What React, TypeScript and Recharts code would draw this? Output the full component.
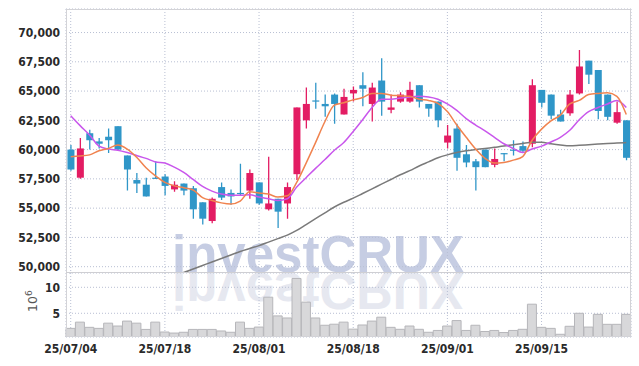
import { ComposedChart, Bar, Line, XAxis, YAxis, CartesianGrid } from 'recharts';

// daily candles, KRX trading days
const dates = [
  '25/07/04', '25/07/07', '25/07/08', '25/07/09', '25/07/10', '25/07/11', '25/07/14', '25/07/15', '25/07/16', '25/07/17',
  '25/07/18', '25/07/21', '25/07/22', '25/07/23', '25/07/24', '25/07/25', '25/07/28', '25/07/29', '25/07/30', '25/07/31',
  '25/08/01', '25/08/04', '25/08/05', '25/08/06', '25/08/07', '25/08/08', '25/08/11', '25/08/12', '25/08/13', '25/08/14',
  '25/08/18', '25/08/19', '25/08/20', '25/08/21', '25/08/22', '25/08/25', '25/08/26', '25/08/27', '25/08/28', '25/08/29',
  '25/09/01', '25/09/02', '25/09/03', '25/09/04', '25/09/05', '25/09/08', '25/09/09', '25/09/10', '25/09/11', '25/09/12',
  '25/09/15', '25/09/16', '25/09/17', '25/09/18', '25/09/19', '25/09/22', '25/09/23', '25/09/24', '25/09/25', '25/09/26',
];

const opens = [
  60000, 57600, 61400, 60700, 61100, 62000, 59500, 57400, 57000, 57600,
  57700, 56600, 57100, 56700, 55500, 53900, 56800, 56300, 56300, 56500,
  57200, 54900, 55800, 55400, 57900, 62500, 64200, 63900, 64700, 63000,
  64800, 65500, 63900, 65900, 63400, 64100, 64100, 65500, 63900, 64100,
  60600, 61800, 59600, 59000, 60000, 58700, 59700, 60000, 60300, 60500,
  65100, 64700, 63000, 63100, 64800, 67600, 66800, 64700, 62300, 62500,
];
const highs = [
  60400, 61000, 61700, 61000, 61800, 62000, 59500, 58000, 57600, 59000,
  57900, 57300, 57100, 56900, 55500, 55900, 57200, 56600, 58800, 58300,
  57200, 59400, 55800, 57200, 63600, 65300, 65700, 64700, 64800, 65200,
  65400, 66600, 65700, 67800, 64700, 64900, 65800, 65500, 63900, 64100,
  62100, 62200, 60400, 59200, 60000, 60100, 59700, 60800, 60700, 66000,
  65100, 64700, 63400, 65100, 68500, 67600, 66800, 64700, 64100, 62500,
];
const lows = [
  58200, 57500, 60000, 60100, 59700, 59900, 56500, 56300, 56000, 57500,
  56100, 56400, 56100, 54100, 53600, 53700, 55700, 55300, 56100, 55800,
  55300, 54800, 53300, 54100, 57400, 61800, 63500, 62800, 62200, 63000,
  64100, 63700, 62400, 62900, 63100, 64000, 64000, 63600, 62800, 61900,
  60100, 58200, 58500, 56500, 58500, 58500, 59000, 59500, 59800, 60200,
  63600, 62600, 62400, 62900, 64700, 65600, 62600, 62500, 62200, 59100,
];
const closes = [
  58300, 60100, 60800, 60500, 60800, 60000, 58300, 57100, 56000, 57500,
  56900, 57000, 56500, 54900, 54100, 55800, 55900, 56000, 56200, 58000,
  55400, 55400, 54700, 56800, 63600, 63900, 64100, 63700, 63900, 64500,
  65100, 65200, 65300, 64100, 63600, 64700, 65100, 64100, 63500, 62500,
  61200, 59300, 58900, 58500, 58500, 59200, 59600, 59900, 59900, 65500,
  64000, 62900, 62400, 64700, 67100, 66400, 63300, 62800, 63200, 59300,
];

// moving averages as drawn (orange, purple, grey)
const ma5 = [
  59400, 59450, 59550, 59900, 60100, 60400, 60050, 59350, 58450, 57750,
  57200, 56900, 56750, 56550, 55900, 55650, 55450, 55350, 55600, 56400,
  56300, 56200, 55950, 56050, 57200, 58850, 60600, 62400, 63800, 64000,
  64250, 64450, 64800, 64800, 64650, 64600, 64550, 64300, 64200, 63950,
  63250, 62100, 61050, 60050, 59250, 58850, 58900, 59100, 59400, 60800,
  61750, 62450, 62950, 63900, 64200, 64700, 64800, 64850, 64550, 63000,
];
const ma10 = [
  62900, 62050, 61250, 60300, 60050, 59950, 59750, 59500, 59250, 58950,
  58850, 58500, 58050, 57450, 56850, 56450, 56200, 56100, 56100, 56150,
  55950, 55800, 55650, 55800, 56800, 57600, 58400, 59150, 59950, 60600,
  61550, 62550, 63600, 64300, 64300, 64400, 64500, 64550, 64500, 64300,
  63900, 63350, 62650, 62100, 61600, 61050, 60500, 60100, 59750, 60050,
  60300, 60650, 61050, 61650, 62550, 63250, 63600, 63900, 64200, 63600,
];
const ma60 = [
  null, null, null, null, null, null, null, null, null, null,
  null, 49250, 49500, 49800, 50100, 50400, 50700, 51000, 51300, 51550,
  51800, 52100, 52400, 52700, 53100, 53600, 54100, 54600, 55100, 55500,
  55850, 56250, 56650, 57050, 57450, 57850, 58200, 58600, 58950, 59300,
  59550, 59750, 59900, 60000, 60100, 60200, 60300, 60420, 60530, 60620,
  60620, 60500, 60400, 60330, 60370, 60420, 60470, 60520, 60560, 60600,
];

// volume, 10^6 shares
const volumes = [
  2.1, 3.3, 2.3, 2.1, 3.1, 2.55, 3.5, 3.1, 1.9, 3.3,
  1.4, 1.2, 1.35, 1.9, 1.9, 1.9, 1.6, 1.35, 3.3, 2.1,
  2.35, 8.1, 4.5, 4.1, 11.7, 7.15, 4.1, 2.7, 2.9, 3.3,
  1.95, 2.75, 3.5, 4.25, 2.3, 1.92, 2.55, 1.92, 1.35, 1.7,
  2.55, 3.6, 1.7, 2.7, 1.5, 1.7, 1.3, 1.7, 1.92, 6.75,
  2.3, 2.1, 0.96, 2.5, 5.0, 2.35, 4.8, 2.88, 2.88, 4.8,
];

const dateTicks = ['25/07/04', '25/07/18', '25/08/01', '25/08/18', '25/09/01', '25/09/15'];
const priceTicks = [50000, 52500, 55000, 57500, 60000, 62500, 65000, 67500, 70000];
const volumeTicks = [5, 10];

const UP = '#e31c63';
const DOWN = '#2f96c8';
const GRID = '#b8bfd3';
const tickStyle = { fontFamily: '"DejaVu Sans Condensed", "DejaVu Sans", sans-serif', fontSize: 12, fontWeight: 'bold', fill: '#2a2a2a' };

const rows = dates.map((date, i) => ({
  date,
  range: [lows[i], highs[i]],
  open: opens[i],
  high: highs[i],
  low: lows[i],
  close: closes[i],
  ma5: ma5[i],
  ma10: ma10[i],
  ma60: ma60[i],
  vol: volumes[i],
}));

function Candle(props: any) {
  const { x, y, width, height, payload } = props;
  const { open, close, high, low } = payload;
  const color = close >= open ? UP : DOWN;
  const k = height / (high - low || 1);
  const top = y + (high - Math.max(open, close)) * k;
  const h = Math.max(1.2, Math.abs(close - open) * k);
  const cx = x + width / 2;
  return (
    <g>
      <line x1={cx} x2={cx} y1={y} y2={y + height} stroke={color} strokeWidth={1.3} />
      <rect x={cx - 3.5} y={top} width={7} height={h} fill={color} />
    </g>
  );
}

export default function App() {
  return (
    <div style={{ position: 'absolute', left: 0, top: 0, width: 639, height: 366, background: '#fff', overflow: 'hidden' }}>
      <svg width={639} height={366} style={{ position: 'absolute', left: 0, top: 0 }}>
        <text x={172} y={272} fontFamily="'Liberation Sans', Arial, sans-serif" fontWeight="bold" fontSize={51} fill="#c6cde3">
          investCRUX
        </text>
        <text
          x={172}
          y={272}
          transform="translate(0,545) scale(1,-1)"
          fontFamily="'Liberation Sans', Arial, sans-serif"
          fontWeight="bold"
          fontSize={51}
          fill="#e6e8f0"
        >
          investCRUX
        </text>
      </svg>

      <div style={{ position: 'absolute', left: 0, top: 0 }}>
        <ComposedChart width={639} height={273} data={rows} margin={{ top: 9, right: 8, bottom: 0, left: 0 }}>
          <CartesianGrid stroke={GRID} strokeDasharray="1 2" />
          <XAxis dataKey="date" hide ticks={dateTicks} interval={0} />
          <YAxis
            domain={[49460, 72010]}
            ticks={priceTicks}
            interval={0}
            allowDataOverflow
            width={66}
            axisLine={false}
            tickLine={false}
            tickSize={0}
            tickMargin={6}
            tick={tickStyle}
            tickFormatter={(v: number) => v.toLocaleString('en-US')}
          />
          <Bar dataKey="range" shape={(p: any) => <Candle {...p} />} isAnimationActive={false} />
          <Line type="monotone" dataKey="ma60" stroke="#7a7a7a" strokeWidth={1.5} dot={false} isAnimationActive={false} />
          <Line type="monotone" dataKey="ma10" stroke="#c957ec" strokeWidth={1.5} dot={false} isAnimationActive={false} />
          <Line type="monotone" dataKey="ma5" stroke="#f0834f" strokeWidth={1.5} dot={false} isAnimationActive={false} />
        </ComposedChart>
      </div>

      <div style={{ position: 'absolute', left: 0, top: 273 }}>
        <ComposedChart width={639} height={93} data={rows} margin={{ top: 0, right: 8, bottom: 0, left: 0 }} barCategoryGap={0}>
          <CartesianGrid stroke={GRID} strokeDasharray="1 2" />
          <XAxis
            dataKey="date"
            ticks={dateTicks}
            interval={0}
            height={29}
            axisLine={false}
            tickLine={false}
            tickSize={0}
            tickMargin={7}
            tick={tickStyle}
          />
          <YAxis
            domain={[0.44, 12.75]}
            ticks={volumeTicks}
            interval={0}
            allowDataOverflow
            width={66}
            axisLine={false}
            tickLine={false}
            tickSize={0}
            tickMargin={6}
            tick={tickStyle}
            label={{
              content: () => (
                <text
                  transform="translate(37,39) rotate(-90)"
                  fontFamily="'DejaVu Sans', sans-serif"
                  fontSize={12.5}
                  fill="#555"
                >
                  10
                  <tspan dy={-5} fontSize={9}>6</tspan>
                </text>
              ),
            }}
          />
          <Bar dataKey="vol" fill="#d8d8da" stroke="#b6b6ba" strokeWidth={1} isAnimationActive={false} />
        </ComposedChart>
      </div>

      <div style={{ position: 'absolute', left: 66, top: 9, width: 565, height: 328, border: '1px solid #d3d3d7', boxSizing: 'border-box', pointerEvents: 'none' }} />
      <div style={{ position: 'absolute', left: 66, top: 272, width: 565, height: 1, background: '#cfcfd3' }} />
    </div>
  );
}
